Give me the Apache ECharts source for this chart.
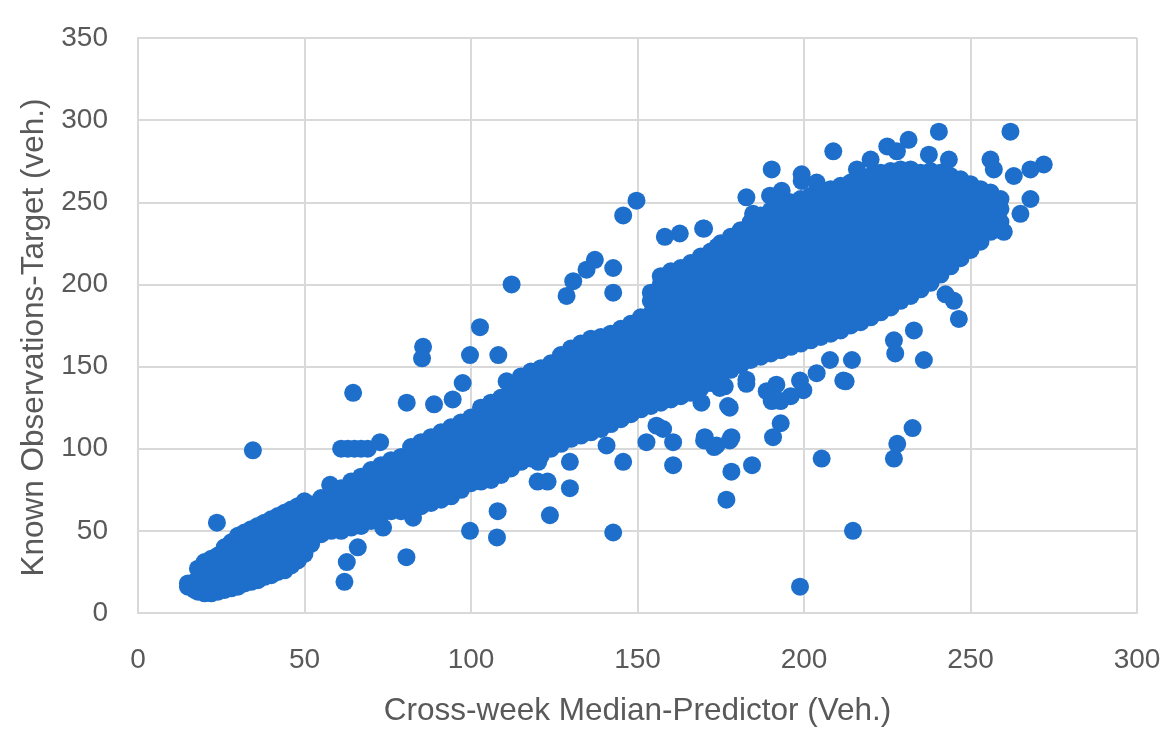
<!DOCTYPE html>
<html>
<head>
<meta charset="utf-8">
<script src="https://cdn.jsdelivr.net/npm/echarts@6/dist/echarts.min.js"></script>
<style>
html,body{margin:0;padding:0;background:#fff;}
#chart{width:1174px;height:736px;}
</style>
</head>
<body>
<div id="chart"></div>
<script>
// Axis ticks
const xTicks = [0, 50, 100, 150, 200, 250, 300];
const yTicks = [0, 50, 100, 150, 200, 250, 300, 350];

// Dense band, read column by column: [x, y1, y2, ...]
const bandLow = [
  [15,16,18],[17,14,19],[18,13,20,27],[20,12,18,25,31],[22,12,19,26,33],
  [24,13,20,28,35],[26,14,21,29,36,40],[28,15,22,30,37,43],[30,16,24,32,40,47],
  [32,18,25,33,41,49],[34,19,27,35,43,51],[36,20,28,36,44,53],[38,22,30,38,46,55],
  [40,23,31,40,48,57],[42,25,33,41,50,59],[44,26,34,43,52,61],[46,29,37,45,54,63],
  [48,32,40,48,57,65],[50,36,44,52,60,68],[52,42,50,58,66],[55,48,55,62,70],[58,50,57,64,71]
];
const bandMid = [
  [61,50,57,64,71,76],[64,52,59,66,73,80],[67,53,60,68,75,83],[70,56,63,71,79,87],
  [73,60,67,75,83,90],[76,62,70,78,86,93],[79,62,70,78,86,95],[82,63,71,80,88,96,101],
  [85,65,73,82,90,98,104],[88,67,75,84,92,100,107],[91,69,77,86,94,102,110],
  [94,71,79,88,96,104,113],[97,75,83,91,99,107,116],[100,79,87,95,103,111,119],
  [103,80,88,96,104,112,120,125],[106,81,89,97,106,114,122,128],[109,84,92,100,108,116,124,131],
  [112,88,96,104,112,120,128,136],[115,92,100,108,116,124,132,140,144],
  [118,94,102,110,118,126,134,142,147],[121,96,104,112,120,128,136,144,149],
  [124,100,108,116,124,132,140,148,152],[127,103,111,119,127,135,143,151,157],
  [130,106,114,122,130,138,146,154,161],[133,108,116,124,132,140,148,156,164],
  [136,110,118,126,134,142,150,158,167],[139,112,120,128,136,144,152,160,168],
  [142,115,123,131,139,147,155,163,170],[145,118,126,134,142,150,158,166,173],
  [148,121,129,137,145,153,161,169,176]
];
const bandHigh = [
  [151,124,132,140,148,156,164,172,180],
  [154,126,134,142,150,158,166,174,182,190,195],
  [157,128,136,144,152,160,168,176,184,192,200,205],
  [160,130,138,146,154,162,170,178,186,194,202,208],
  [163,132,140,148,156,164,172,180,188,196,204,210],
  [166,134,142,150,158,166,174,182,190,198,206,213],
  [169,137,145,153,161,169,177,185,193,201,209,217],
  [172,140,148,156,164,172,180,188,196,204,212,220],
  [175,144,152,160,168,176,184,192,200,208,216,225],
  [178,148,156,164,172,180,188,196,204,212,220,229],
  [181,151,159,167,175,183,191,199,207,215,223,233],
  [184,154,162,170,178,186,194,202,210,218,226,234,238],
  [187,156,164,172,180,188,196,204,212,220,228,236,242],
  [190,158,166,174,182,190,198,206,214,222,230,238,245],
  [193,160,168,176,184,192,200,208,216,224,232,240,248],
  [196,162,170,178,186,194,202,210,218,226,234,242,250],
  [199,164,172,180,188,196,204,212,220,228,236,244,252],
  [202,166,174,182,190,198,206,214,222,230,238,246,254],
  [205,168,176,184,192,200,208,216,224,232,240,248,256],
  [208,170,178,186,194,202,210,218,226,234,242,250,258],
  [211,172,180,188,196,204,212,220,228,236,244,252,260],
  [214,175,183,191,199,207,215,223,231,239,247,255,262],
  [217,177,185,193,201,209,217,225,233,241,249,257,264],
  [220,180,188,196,204,212,220,228,236,244,252,260,266],
  [223,183,191,199,207,215,223,231,239,247,255,263,268],
  [226,186,194,202,210,218,226,234,242,250,258,265,269],
  [229,190,198,206,214,222,230,238,246,254,262,270],
  [232,193,201,209,217,225,233,241,249,257,265,270],
  [235,197,205,213,221,229,237,245,253,261,268],
  [238,201,209,217,225,233,241,249,257,265,269],
  [241,206,214,222,230,238,246,254,262,268],
  [244,211,219,227,235,243,251,259,266],
  [247,216,224,232,240,248,256,264],
  [250,221,229,237,245,253,261],
  [253,226,234,242,250,258],
  [256,232,240,248,256],
  [259,238,246,252]
];

// Scattered points outside the dense band: [x, y]
const outliers = [
  [23.7,55],[34.5,99],[64.6,134],[80.7,128],[88.9,127],[94.5,130],[97.5,140],
  [61,100],[63,100],[65,100],[67,100],[69,100],[72.7,104],[57.7,78],[62,19],[62.7,31],
  [66,40],[80.6,34],[99.7,50],[107.8,46],[108,62],[73.6,52],[82.6,58],[85.6,162],
  [85.3,155],[102.7,174],[99.7,157],[108.2,157],[112.2,200],[110.7,141],[145.7,242],
  [149.7,251],[137.2,215],[134.7,209],[130.7,202],[128.7,193],[142.7,210],[142.7,195],
  [158.2,229],[162.7,231],[169.7,234],[174.2,223],[182.7,253],[181.7,225],[123.7,59.5],
  [142.7,49],[120,80],[123,80],[129.7,76],[129.7,92],[120.2,92],[145.7,92],[152.7,104],
  [160.7,90],[160.7,104],[157.7,112],[155.7,114],[178.2,86],[176.7,69],[184.4,90],
  [170.2,107],[173.7,102],[178.2,107],[140.7,102],[176.2,138],[177.2,126],[169.2,128],
  [182.7,142],[198.8,16],[214.7,50],[205.3,94],[227,94],[228,103],[232.6,112.6],
  [190.7,107],[193,115.5],[212.5,141],[199.8,135.6],[196,132],[193,129],[191.7,139],
  [208.8,281],[231.4,288],[240.5,293],[262,293],[272,273],[268,270],[268,252],[265,243],
  [260,232],[246.5,179],[245,190],[242.5,194],[236,154],[233,172],[227,166],[227.4,158],
  [214.4,154],[211.8,141.5],[207.8,154],[203.8,146],[198.8,141.5],[188.8,135],[190.3,129],
  [182.7,139.5],[177.7,125],[174.7,137],[177.7,105],[173,101],[170,105],[190.3,270],
  [199.3,267],[199.3,263],[193.3,257],[203.8,262],[215.9,270],[220,276],[225,284],
  [227.9,281],[237.5,279],[243.5,276],[256,276],[263,266],[257,270],[170,234],[174,223],
  [181.2,224],[184.7,243],[189.8,254]
];

const points = [];
[bandLow, bandMid, bandHigh].forEach(function (cols) {
  cols.forEach(function (col) {
    for (let i = 1; i < col.length; i++) points.push([col[0], col[i]]);
  });
});
outliers.forEach(function (p) { points.push(p); });

const labelColor = '#595959';
const gridColor = '#d9d9d9';
const font = 'Liberation Sans';

const chart = echarts.init(document.getElementById('chart'));
chart.setOption({
  animation: false,
  backgroundColor: '#ffffff',
  grid: { left: 138, right: 37, top: 38, bottom: 123 },
  xAxis: {
    type: 'value',
    min: xTicks[0], max: xTicks[xTicks.length - 1], interval: xTicks[1] - xTicks[0],
    name: 'Cross-week Median-Predictor (Veh.)',
    nameLocation: 'middle', nameGap: 82,
    nameTextStyle: { color: labelColor, fontSize: 31.5, fontFamily: font },
    axisLine: { show: true, lineStyle: { color: gridColor, width: 2 } },
    axisTick: { show: false },
    axisLabel: { color: labelColor, fontSize: 28, fontFamily: font, margin: 33 },
    splitLine: { show: true, lineStyle: { color: gridColor, width: 2 } }
  },
  yAxis: {
    type: 'value',
    min: yTicks[0], max: yTicks[yTicks.length - 1], interval: yTicks[1] - yTicks[0],
    name: 'Known Observations-Target (veh.)',
    nameLocation: 'middle', nameGap: 84,
    nameTextStyle: { color: labelColor, fontSize: 31.5, fontFamily: font, padding: [0, 24, 0, 0] },
    axisLine: { show: true, lineStyle: { color: gridColor, width: 2 } },
    axisTick: { show: false },
    axisLabel: { color: labelColor, fontSize: 28, fontFamily: font, margin: 30 },
    splitLine: { show: true, lineStyle: { color: gridColor, width: 2 } }
  },
  series: [{
    type: 'scatter',
    data: points,
    symbol: 'circle',
    symbolSize: 18,
    itemStyle: { color: '#1E6FCB', opacity: 1 }
  }]
});
</script>
</body>
</html>
